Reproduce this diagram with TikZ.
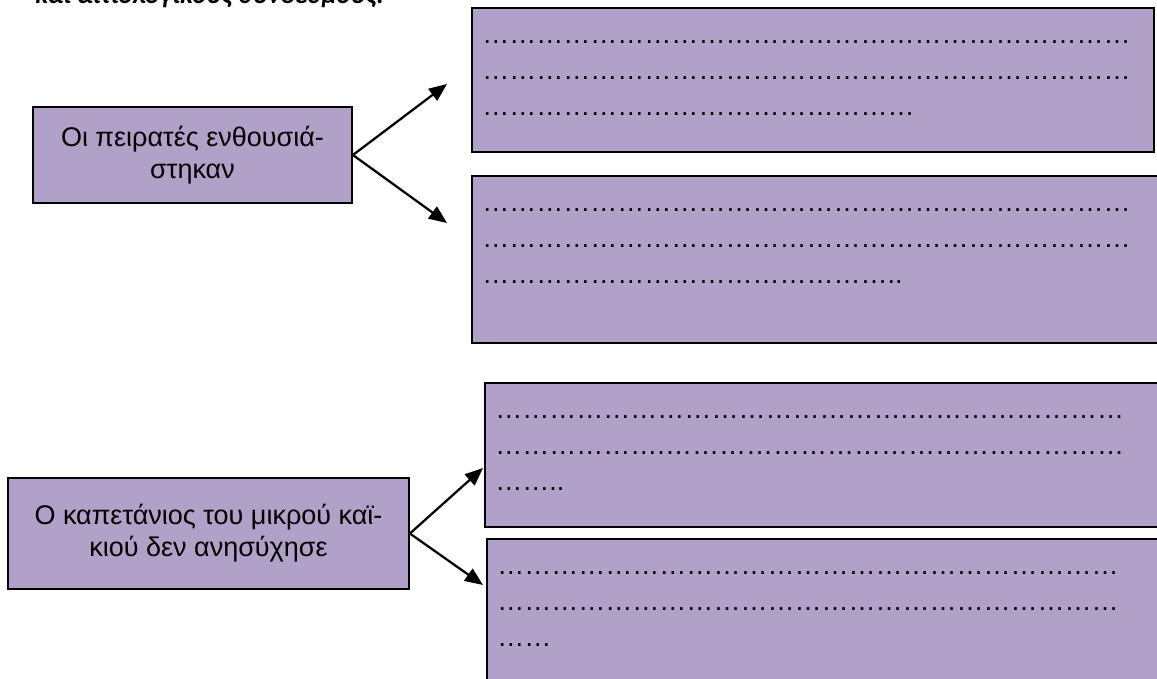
\documentclass[tikz,border=0pt]{standalone}
\usepackage{fontspec}
\setmainfont{Liberation Sans}
\newfontfamily\headfont{Carlito}
\usetikzlibrary{arrows.meta,positioning}
\definecolor{lilac}{HTML}{B1A0C7}

\begin{document}
\begin{tikzpicture}[
  x=0.4444pt, y=-0.4444pt,
  box/.style={draw, line width=0.8pt, fill=lilac, align=center, inner sep=0pt, font=\fontsize{12}{14.2}\selectfont},
  answer/.style={draw, line width=0.8pt, fill=lilac, anchor=north west, inner sep=0pt},
  dots/.style={align=left, inner sep=0pt, font=\fontsize{12}{16.1}\selectfont},
  head/.style={anchor=base west, inner sep=0pt, font=\headfont\bfseries\itshape\fontsize{12}{14}\selectfont},
  arr/.style={-{Triangle[length=8pt,width=6.5pt]}, line width=1pt}
]
\useasboundingbox (0,0) rectangle (1157,679);

% cut-off heading
\node[head] (hd) at (35,3) {και αιτιολογικούς συνδέσμους.};

% left boxes
\node[box, minimum width=141.8pt, minimum height=42.7pt] (pir) at (192.5,155) {Οι πειρατές ενθουσιά-\\στηκαν};
\node[box, minimum width=178.2pt, minimum height=49.3pt] (kap) at (208.5,533.5) {Ο καπετάνιος του μικρού καϊ-\\κιού δεν ανησύχησε};

% answer boxes
\node[answer, minimum width=303.1pt, minimum height=64pt] (r1) at (471,7) {};
\node[answer, minimum width=310.7pt, minimum height=74.2pt] (r2) at (471,175) {};
\node[answer, minimum width=304.9pt, minimum height=64pt] (r3) at (484,382) {};
\node[answer, minimum width=304pt, minimum height=67.6pt] (r4) at (486,538) {};

\node[dots, below right=4.6pt and 4.9pt of r1.north west] (d1) {\strut…………{}…………{}…………{}…………{}…………{}…………\\…………{}…………{}…………{}…………{}…………{}…………\\…………{}…………{}…………{}…………};
\node[dots, below right=4.6pt and 4.9pt of r2.north west] (d2) {\strut…………{}…………{}…………{}…………{}…………{}…………\\…………{}…………{}…………{}…………{}…………{}…………\\…………{}…………{}…………{}………..};
\node[dots, below right=4.6pt and 4.9pt of r3.north west] (d3) {\strut…………{}…………{}…………{}……….…………{}…………\\…………{}…….…………{}…………{}…………{}…………{}…\\……..};
\node[dots, below right=4.6pt and 4.9pt of r4.north west] (d4) {\strut…………{}…………{}…………{}…………{}…………{}………\\…………{}…………{}…………{}…………{}…………{}………\\……};

% arrow tips
\coordinate (t1) at (447,84);
\coordinate (t2) at (447,223);
\coordinate (t3) at (483,468);
\coordinate (t4) at (483,585);

\draw[arr] (pir.east) -- (t1);
\draw[arr] (pir.east) -- (t2);
\draw[arr] (kap.east) -- (t3);
\draw[arr] (kap.east) -- (t4);
\end{tikzpicture}
\end{document}
